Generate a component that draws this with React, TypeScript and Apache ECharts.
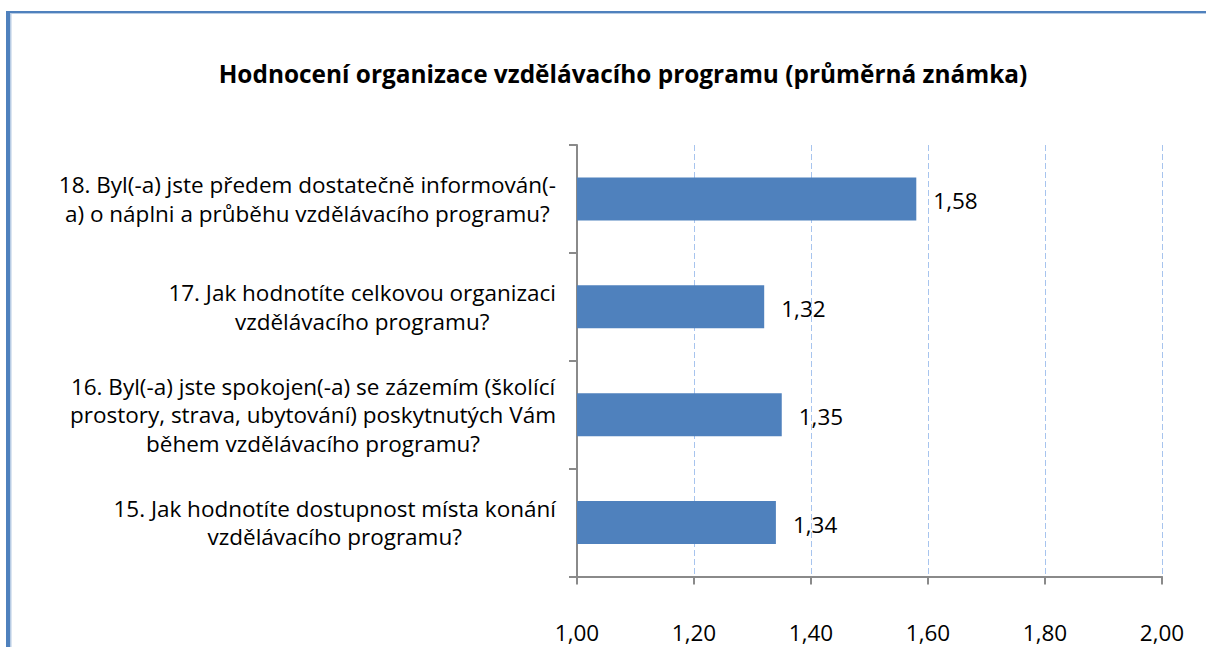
import React, { useEffect, useRef } from "react";
import * as echarts from "echarts";

const titleText = "Hodnocení organizace vzdělávacího programu (průměrná známka)";
const categories = [
  "15. Jak hodnotíte dostupnost místa konání\nvzdělávacího programu?",
  "16. Byl(-a) jste spokojen(-a) se zázemím (školící\nprostory, strava, ubytování) poskytnutých Vám\nběhem vzdělávacího programu?",
  "17. Jak hodnotíte celkovou organizaci\nvzdělávacího programu?",
  "18. Byl(-a) jste předem dostatečně informován(-\na) o náplni a průběhu vzdělávacího programu?",
];
const values = [1.34, 1.35, 1.32, 1.58];
const axisMin = 1.0;
const axisMax = 2.0;
const axisStep = 0.2;

const FONT = "'Open Sans', 'Noto Sans', sans-serif";
const LABEL_SIZE = 22.5;
const fmt = (v: number) => v.toFixed(2).replace(".", ",");

export default function App() {
  const ref = useRef<HTMLDivElement>(null);
  useEffect(() => {
    if (!ref.current) return;
    const chart = echarts.init(ref.current, undefined, { renderer: "svg" });
    chart.setOption({
      animation: false,
      backgroundColor: "#ffffff",
      title: {
        text: titleText,
        left: 618,
        textAlign: "center",
        top: 56,
        textStyle: {
          fontFamily: FONT,
          fontSize: 24.4,
          fontWeight: "bold",
          color: "#000000",
        },
      },
      grid: { left: 577, right: 44, top: 145, bottom: 70.5, containLabel: false },
      xAxis: {
        type: "value",
        min: axisMin,
        max: axisMax,
        interval: axisStep,
        axisLine: { show: true, lineStyle: { color: "#8a8a8a", width: 2 } },
        axisTick: { show: true, length: 8, lineStyle: { color: "#8a8a8a", width: 2 } },
        axisLabel: {
          formatter: (v: number) => fmt(v),
          fontFamily: FONT,
          fontSize: LABEL_SIZE,
          color: "#000000",
          margin: 46,
          lineHeight: 20,
        },
        splitLine: {
          show: true,
          lineStyle: { color: "#a7c4ee", type: [6, 3], width: 1 },
        },
      },
      yAxis: {
        type: "category",
        data: categories,
        axisLine: { show: true, lineStyle: { color: "#8a8a8a", width: 2 } },
        axisTick: { show: true, length: 8, lineStyle: { color: "#8a8a8a", width: 2 } },
        axisLabel: {
          fontFamily: FONT,
          fontSize: LABEL_SIZE,
          color: "#000000",
          margin: 21,
          lineHeight: 28.5,
          align: "right",
          formatter: (v: string) =>
            v
              .split("\n")
              .map((l) => `{c|${l}}`)
              .join("\n"),
          rich: {
            c: {
              align: "center",
              fontFamily: FONT,
              fontSize: LABEL_SIZE,
              lineHeight: 28.5,
              color: "#000000",
            },
          },
        },
        splitLine: { show: false },
      },
      series: [
        {
          type: "bar",
          data: values,
          barWidth: 43,
          itemStyle: { color: "#4f81bd" },
          label: {
            show: true,
            position: "right",
            distance: 17,
            offset: [0, 2],
            formatter: (p: any) => fmt(p.value),
            fontFamily: FONT,
            fontSize: LABEL_SIZE,
            color: "#000000",
          },
        },
      ],
      graphic: [
        {
          type: "line",
          shape: { x1: 8, y1: 11, x2: 8, y2: 647 },
          style: { stroke: "#4f81bd", lineWidth: 4 },
        },
        {
          type: "line",
          shape: { x1: 10.75, y1: 13, x2: 10.75, y2: 647 },
          style: { stroke: "#b8cce4", lineWidth: 1.5 },
        },
        {
          type: "line",
          shape: { x1: 6, y1: 12, x2: 1206, y2: 12 },
          style: { stroke: "#4f81bd", lineWidth: 2 },
        },
        {
          type: "line",
          shape: { x1: 10, y1: 13.5, x2: 1206, y2: 13.5 },
          style: { stroke: "#b8cce4", lineWidth: 1 },
        },
      ],
    });
    return () => chart.dispose();
  }, []);
  return (
    <div
      ref={ref}
      style={{ position: "absolute", left: 0, top: 0, width: 1206, height: 647 }}
    />
  );
}
